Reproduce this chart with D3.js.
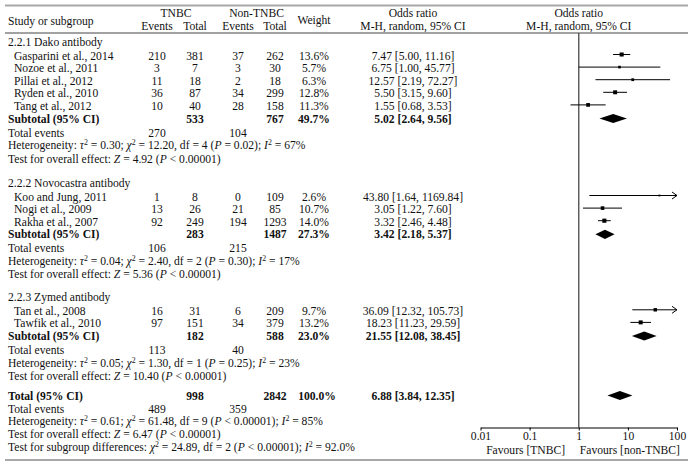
<!DOCTYPE html>
<html><head><meta charset="utf-8">
<script src="https://cdn.jsdelivr.net/npm/d3@7"></script>
<style>
html,body{margin:0;padding:0;background:#fff;}
svg text{font-family:"Liberation Serif","DejaVu Serif",serif;font-size:11.6px;fill:#111;}
</style></head>
<body><svg id="c" width="694" height="475"></svg>
<script>
// ---- data ----
const groupLabels = ["2.2.1 Dako antibody", "2.2.2 Novocastra antibody", "2.2.3 Zymed antibody"];
const studies = ["Gasparini et al., 2014","Nozoe et al., 2011","Pillai et al., 2012","Ryden et al., 2010","Tang et al., 2012",
  "Koo and Jung, 2011","Nogi et al., 2009","Rakha et al., 2007","Tan et al., 2008","Tawfik et al., 2010"];
const studyGroup = [0,0,0,0,0,1,1,1,2,2];
const tnbcEvents = [210,3,11,36,10,1,13,92,16,97];
const tnbcTotal = [381,7,18,87,40,8,26,249,31,151];
const nonEvents = [37,3,2,34,28,0,21,194,6,34];
const nonTotal = [262,30,18,299,158,109,85,1293,209,379];
const weights = [13.6,5.7,6.3,12.8,11.3,2.6,10.7,14.0,9.7,13.2];
const orVal = [7.47,6.75,12.57,5.50,1.55,43.80,3.05,3.32,36.09,18.23];
const orLow = [5.00,1.00,2.19,3.15,0.68,1.64,1.22,2.46,12.32,11.23];
const orHigh = [11.16,45.77,72.27,9.60,3.53,1169.84,7.60,4.48,105.73,29.59];

const subTnbcTotal = [533,283,182];
const subNonTotal = [767,1487,588];
const subWeight = ["49.7%","27.3%","23.0%"];
const subOR = [5.02,3.42,21.55];
const subLow = [2.64,2.18,12.08];
const subHigh = [9.56,5.37,38.45];
const subTnbcEvents = [270,106,113];
const subNonEvents = [104,215,40];
const hetTau = ["0.30","0.04","0.05"];
const hetChi = ["12.20","2.40","1.30"];
const hetDf = [4,2,1];
const hetP = ["= 0.02","= 0.30","= 0.25"];
const hetI2 = ["67%","17%","23%"];
const effZ = ["4.92","5.36","10.40"];
const effP = ["< 0.00001","< 0.00001","< 0.00001"];

const total = {tnbcTotal:998, nonTotal:2842, weight:"100.0%", or:6.88, low:3.84, high:12.35,
  tnbcEvents:489, nonEvents:359, tau:"0.61", chi:"61.48", df:9, p:"< 0.00001", i2:"85%", z:"6.47", zp:"< 0.00001",
  subChi:"24.89", subDf:2, subP:"< 0.00001", subI2:"92.0%"};

const tickValues = [0.01,0.1,1,10,100];
const tickLabels = ["0.01","0.1","1","10","100"];

// ---- layout ----
const svg = d3.select("#c");
const xs = d3.scaleLog().domain([0.01,100]).range([480.5,677]);
const colX = {label:8, study:14, tE:157, tT:195, nE:238, nT:275, w:314, or:413};
const fmt = d3.format(".2f");

function txt(x,y,s,opt={}) {
  const t = svg.append("text").attr("x",x).attr("y",y).attr("dy","0.35em")
    .attr("text-anchor",opt.anchor||"start");
  if (opt.bold) t.attr("font-weight","bold");
  t.text(s);
  return t;
}
function rich(x,y,parts){
  const t = svg.append("text").attr("x",x).attr("y",y).attr("dy","0.35em");
  parts.forEach(([s,st])=>{
    const sp = t.append("tspan").text(s);
    if (st.includes("i")) sp.attr("font-style","italic");
    if (st.includes("s")) { sp.attr("baseline-shift","super").style("font-size","7.8px"); }
  });
  return t;
}
function hetParts(tau,chi,df,p,i2){
  return [["Heterogeneity: ",""],["τ","i"],["2","s"],[" = "+tau+"; ",""],["χ","i"],["2","s"],
    [" = "+chi+", df = "+df+" (",""],["P","i"],[" "+p+"); ",""],["I","i"],["2","s"],[" = "+i2,""]];
}
function effParts(z,p){
  return [["Test for overall effect: ",""],["Z","i"],[" = "+z+" (",""],["P","i"],[" "+p+")",""]];
}
function orText(o,l,h){ return fmt(o)+" ["+fmt(l)+", "+fmt(h)+"]"; }

// borders
svg.append("line").attr("x1",5).attr("x2",688).attr("y1",5.5).attr("y2",5.5).attr("stroke","#a8a8a8").attr("stroke-width",2);
svg.append("line").attr("x1",5).attr("x2",688).attr("y1",33).attr("y2",33).attr("stroke","#444").attr("stroke-width",1);
svg.append("line").attr("x1",5).attr("x2",688).attr("y1",460).attr("y2",460).attr("stroke","#a8a8a8").attr("stroke-width",2);

// header
txt(colX.label,21,"Study or subgroup");
txt((colX.tE+colX.tT)/2,13,"TNBC",{anchor:"middle"});
txt((colX.nE+colX.nT)/2,13,"Non-TNBC",{anchor:"middle"});
txt(colX.tE,26,"Events",{anchor:"middle"});
txt(colX.tT,26,"Total",{anchor:"middle"});
txt(colX.nE,26,"Events",{anchor:"middle"});
txt(colX.nT,26,"Total",{anchor:"middle"});
txt(colX.w,20,"Weight",{anchor:"middle"});
txt(colX.or,13,"Odds ratio",{anchor:"middle"});
txt(colX.or,26,"M-H, random, 95% CI",{anchor:"middle"});
const plotMid = (xs.range()[0]+xs.range()[1])/2;
txt(plotMid,13,"Odds ratio",{anchor:"middle"});
txt(plotMid,26,"M-H, random, 95% CI",{anchor:"middle"});

// plot elements
const axisY = 427.5;
const plot = svg.append("g");
plot.append("line").attr("x1",xs(1)).attr("x2",xs(1)).attr("y1",33).attr("y2",axisY).attr("stroke","#555").attr("stroke-width",1.4);

function diamond(y,o,l,h){
  const hh = 4.6;
  plot.append("path").attr("d",`M${xs(l)},${y}L${xs(o)},${y-hh}L${xs(h)},${y}L${xs(o)},${y+hh}Z`).attr("fill","#000");
}
function study(y,i){
  const [d0,d1] = xs.domain();
  const lo = Math.max(orLow[i],d0), hi = Math.min(orHigh[i],d1);
  const my = y-1;
  plot.append("line").attr("x1",xs(lo)).attr("x2",xs(hi)).attr("y1",my).attr("y2",my).attr("stroke","#000").attr("stroke-width",1);
  if (orHigh[i]>d1) {
    plot.append("path").attr("d",`M${xs(d1)-5},${my-3.5}L${xs(d1)},${my}L${xs(d1)-5},${my+3.5}`).attr("fill","none").attr("stroke","#000").attr("stroke-width",1);
  }
  const s = Math.sqrt(weights[i])*1.1;
  plot.append("rect").attr("x",xs(orVal[i])-s/2).attr("y",my-s/2).attr("width",s).attr("height",s).attr("fill","#000");
}

// rows
let y = 41.5;
groupLabels.forEach((g,gi)=>{
  txt(colX.label,y,g);
  y += 14;
  studies.forEach((s,i)=>{
    if (studyGroup[i]!==gi) return;
    txt(colX.study,y,s);
    txt(colX.tE,y,tnbcEvents[i],{anchor:"middle"});
    txt(colX.tT,y,tnbcTotal[i],{anchor:"middle"});
    txt(colX.nE,y,nonEvents[i],{anchor:"middle"});
    txt(colX.nT,y,nonTotal[i],{anchor:"middle"});
    txt(colX.w,y,weights[i].toFixed(1)+"%",{anchor:"middle"});
    txt(colX.or,y,orText(orVal[i],orLow[i],orHigh[i]),{anchor:"middle"});
    study(y,i);
    y += 12.6;
  });
  txt(colX.label,y,"Subtotal (95% CI)",{bold:true});
  txt(colX.tT,y,subTnbcTotal[gi],{anchor:"middle",bold:true});
  txt(colX.nT,y,subNonTotal[gi],{anchor:"middle",bold:true});
  txt(colX.w,y,subWeight[gi],{anchor:"middle",bold:true});
  txt(colX.or,y,orText(subOR[gi],subLow[gi],subHigh[gi]),{anchor:"middle",bold:true});
  diamond(y,subOR[gi],subLow[gi],subHigh[gi]);
  y += 14;
  txt(colX.label,y,"Total events");
  txt(colX.tE,y,subTnbcEvents[gi],{anchor:"middle"});
  txt(colX.nE,y,subNonEvents[gi],{anchor:"middle"});
  y += 12.5;
  rich(colX.label,y,hetParts(hetTau[gi],hetChi[gi],hetDf[gi],hetP[gi],hetI2[gi]));
  y += 13.5;
  rich(colX.label,y,effParts(effZ[gi],effP[gi]));
  y += [24,22.5,19.5][gi];
});
// overall
txt(colX.label,y,"Total (95% CI)",{bold:true});
txt(colX.tT,y,total.tnbcTotal,{anchor:"middle",bold:true});
txt(colX.nT,y,total.nonTotal,{anchor:"middle",bold:true});
txt(colX.w+3,y,total.weight,{anchor:"middle",bold:true});
txt(colX.or,y,orText(total.or,total.low,total.high),{anchor:"middle",bold:true});
diamond(y,total.or,total.low,total.high);
y += 13;
txt(colX.label,y,"Total events");
txt(colX.tE,y,total.tnbcEvents,{anchor:"middle"});
txt(colX.nE,y,total.nonEvents,{anchor:"middle"});
y += 12.5;
rich(colX.label,y,hetParts(total.tau,total.chi,total.df,total.p,total.i2));
y += 12.8;
rich(colX.label,y,effParts(total.z,total.zp));
y += 13.4;
rich(colX.label,y,[["Test for subgroup differences: ",""],["χ","i"],["2","s"],[" = "+total.subChi+", df = "+total.subDf+" (",""],["P","i"],[" "+total.subP+"); ",""],["I","i"],["2","s"],[" = "+total.subI2,""]]);

// axis
const axis = d3.axisBottom(xs).tickValues(tickValues).tickFormat((d,i)=>tickLabels[i]).tickSize(3).tickSizeOuter(0);
const ag = svg.append("g").attr("transform",`translate(0,${axisY})`).call(axis);
ag.select(".domain").attr("stroke","#000");
ag.selectAll(".tick line").attr("stroke","#000");
ag.selectAll(".tick text").attr("font-family",null).attr("font-size",null).attr("dy","0.35em").attr("y",8.5);
txt(xs(0.1)-4,449.5,"Favours [TNBC]",{anchor:"middle"});
txt(xs(10)+2,449.5,"Favours [non-TNBC]",{anchor:"middle"});
</script></body></html>
